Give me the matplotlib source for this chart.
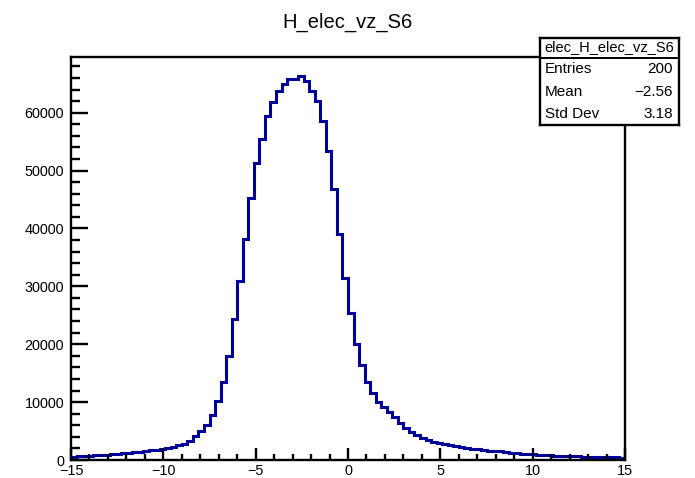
import numpy as np
import matplotlib.pyplot as plt
from matplotlib.ticker import MultipleLocator

plt.rcParams['font.family'] = ['Liberation Sans', 'DejaVu Sans']

# histogram: 100 bins from -15 to 15
x_lo, x_hi, n_bins = -15.0, 15.0, 100
counts = [
    560, 610, 660, 720, 800, 860, 930, 1000, 1080, 1160,
    1250, 1340, 1440, 1540, 1650, 1770, 1900, 2000, 2200, 2550,
    2800, 3350, 4100, 5050, 6100, 7700, 10200, 13500, 18000, 24300,
    30900, 38200, 45300, 51300, 55500, 59500, 61800, 63700, 64900, 65800,
    65900, 66300, 65400, 63800, 62100, 58500, 53400, 46800, 39100, 31500,
    25400, 20100, 16400, 13500, 11500, 10100, 9100, 8300, 7400, 6400,
    5500, 4900, 4400, 3850, 3400, 3150, 2950, 2750, 2550, 2380,
    2220, 2080, 1950, 1830, 1720, 1620, 1540, 1470, 1380, 1290,
    1200, 1120, 1040, 980, 920, 860, 810, 760, 720, 680,
    640, 610, 580, 550, 520, 500, 480, 460, 440, 420,
]

hist_name = "H_elec_vz_S6"
stats_title = "elec_H_elec_vz_S6"
stats_rows = [("Entries", "200"), ("Mean", "\u22122.56"), ("Std Dev", "3.18")]

edges = np.linspace(x_lo, x_hi, n_bins + 1)

W, H = 695, 478
fig = plt.figure(figsize=(W / 100, H / 100), dpi=100)
ax = fig.add_axes([71 / W, 1 - 460 / H, (625 - 71) / W, (460 - 57) / H])

ax.stairs(counts, edges, color='#000099', lw=2.2, baseline=0)
ax.set_xlim(x_lo, x_hi)
ax.set_ylim(0, 1.05 * max(counts))

for s in ax.spines.values():
    s.set_linewidth(1.7)

ax.xaxis.set_major_locator(MultipleLocator(5))
ax.xaxis.set_minor_locator(MultipleLocator(1))
ax.yaxis.set_major_locator(MultipleLocator(10000))
ax.yaxis.set_minor_locator(MultipleLocator(2000))
ax.tick_params(axis='x', which='major', direction='in', length=9, width=1.7,
               labelsize=10.4, pad=3)
ax.tick_params(axis='x', which='minor', direction='in', length=4.5, width=1.7)
ax.tick_params(axis='y', which='major', direction='in', length=12.5, width=1.7,
               labelsize=10.4, pad=5)
ax.tick_params(axis='y', which='minor', direction='in', length=6.2, width=1.7)
ax.set_xticks([-15, -10, -5, 0, 5, 10, 15])
ax.set_xticklabels(["\u221215", "\u221210", "\u22125", "0", "5", "10", "15"])

fig.text(348 / W, 1 - 22 / H, hist_name, ha='center', va='center', fontsize=14.5)

# stats box
bx0, bx1, by0, by1 = 540, 679, 38, 125
sep = 58
box = fig.add_axes([bx0 / W, 1 - by1 / H, (bx1 - bx0) / W, (by1 - by0) / H])
box.set_xlim(bx0, bx1)
box.set_ylim(by1, by0)
box.set_xticks([])
box.set_yticks([])
for s in box.spines.values():
    s.set_linewidth(1.7)
box.axhline(sep, color='black', lw=1.4)
box.text((bx0 + bx1) / 2, (by0 + sep) / 2 - 0.5, stats_title, ha='center', va='center',
         fontsize=10.5)
row_h = (by1 - sep) / len(stats_rows)
for i, (lab, val) in enumerate(stats_rows):
    yc = sep + row_h * (i + 0.5)
    box.text(bx0 + 5, yc, lab, ha='left', va='center', fontsize=11)
    box.text(bx1 - 6, yc, val, ha='right', va='center', fontsize=11)

fig.savefig("out.png", dpi=100)
